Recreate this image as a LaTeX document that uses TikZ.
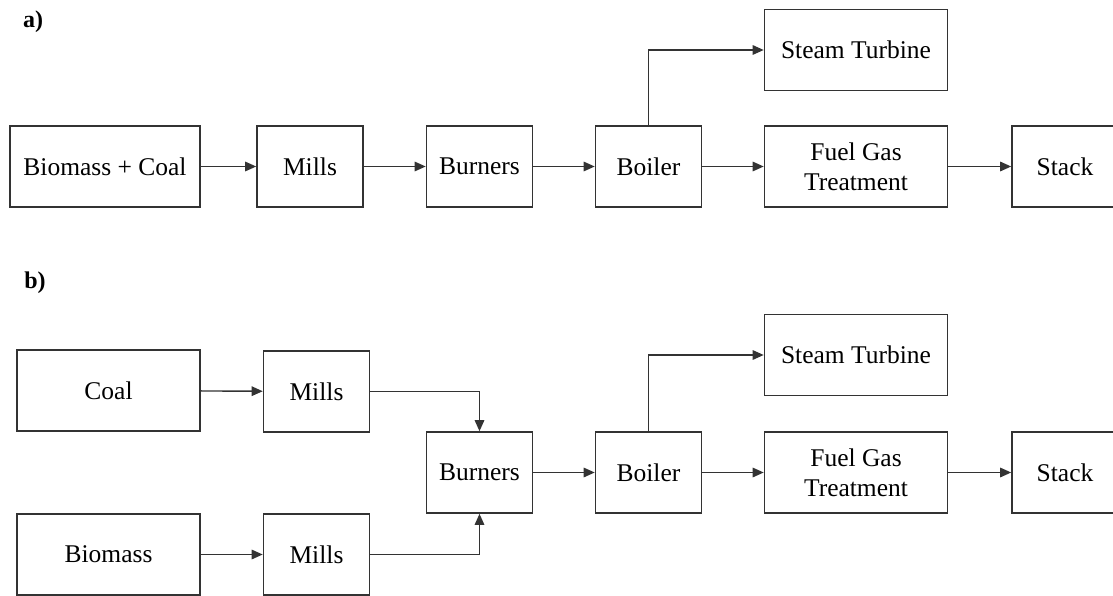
\documentclass[tikz,border=0pt]{standalone}
\usepackage{fontspec}
\setmainfont{Liberation Serif}
\usetikzlibrary{arrows.meta,positioning,calc}

\begin{document}
\begin{tikzpicture}
    [ x=1pt, y=-1pt
    , box/.style={draw=black!80, line width=1.6pt, inner sep=0pt,
        minimum height=81pt, align=center,
        font=\fontsize{25.5}{30}\selectfont}
    , wide/.style={box, minimum width=183pt}
    , small/.style={box, minimum width=106pt}
    , flow/.style={draw=black!80, line width=1.4pt,
        -{Triangle[length=11pt,width=9.5pt]}}
    , panel/.style={font=\fontsize{24}{28}\selectfont\bfseries}
    ]
  \useasboundingbox (0,0) rectangle (1113,596);

  % a) co-firing, mixed feed
  \node[panel] (lbla) at (33,22) {a)};
  \node[box, minimum width=190pt] (feed) at (105,166.5) {Biomass + Coal};
  \node[small] (millsa) at (310,166.5) {Mills};
  \node[small] (burna) at (479.5,166.5) {Burners};
  \node[small] (boila) at (648.5,166.5) {Boiler};
  \node[wide] (turba) at (856,50) {Steam Turbine};
  \node[wide] (fgta) at (856,166.5) {Fuel Gas\\Treatment};
  \node[small] (stacka) at (1065,166.5) {Stack};

  \draw[flow] (feed) -- (millsa);
  \draw[flow] (millsa) -- (burna);
  \draw[flow] (burna) -- (boila);
  \draw[flow] (boila) -- (fgta);
  \draw[flow] (fgta) -- (stacka);
  \draw[flow] (boila.north) |- (turba.west);

  % b) separate milling
  \node[panel] (lblb) at (35,283) {b)};
  \node[wide] (coal) at (108.5,390.5) {Coal};
  \node[small] (millsc) at (316.5,391.5) {Mills};
  \node[wide] (bio) at (108.5,554.5) {Biomass};
  \node[small] (millsb) at (316.5,554.5) {Mills};
  \node[small] (burnb) at (479.5,472.5) {Burners};
  \node[small] (boilb) at (648.5,472.5) {Boiler};
  \node[wide] (turbb) at (856,355) {Steam Turbine};
  \node[wide] (fgtb) at (856,472.5) {Fuel Gas\\Treatment};
  \node[small] (stackb) at (1065,472.5) {Stack};

  \draw[flow] (coal) -- (millsc);
  \draw[flow] (bio) -- (millsb);
  \draw[flow] (millsc.east) -| (burnb.north);
  \draw[flow] (millsb.east) -| (burnb.south);
  \draw[flow] (burnb) -- (boilb);
  \draw[flow] (boilb) -- (fgtb);
  \draw[flow] (fgtb) -- (stackb);
  \draw[flow] (boilb.north) |- (turbb.west);
\end{tikzpicture}
\end{document}
